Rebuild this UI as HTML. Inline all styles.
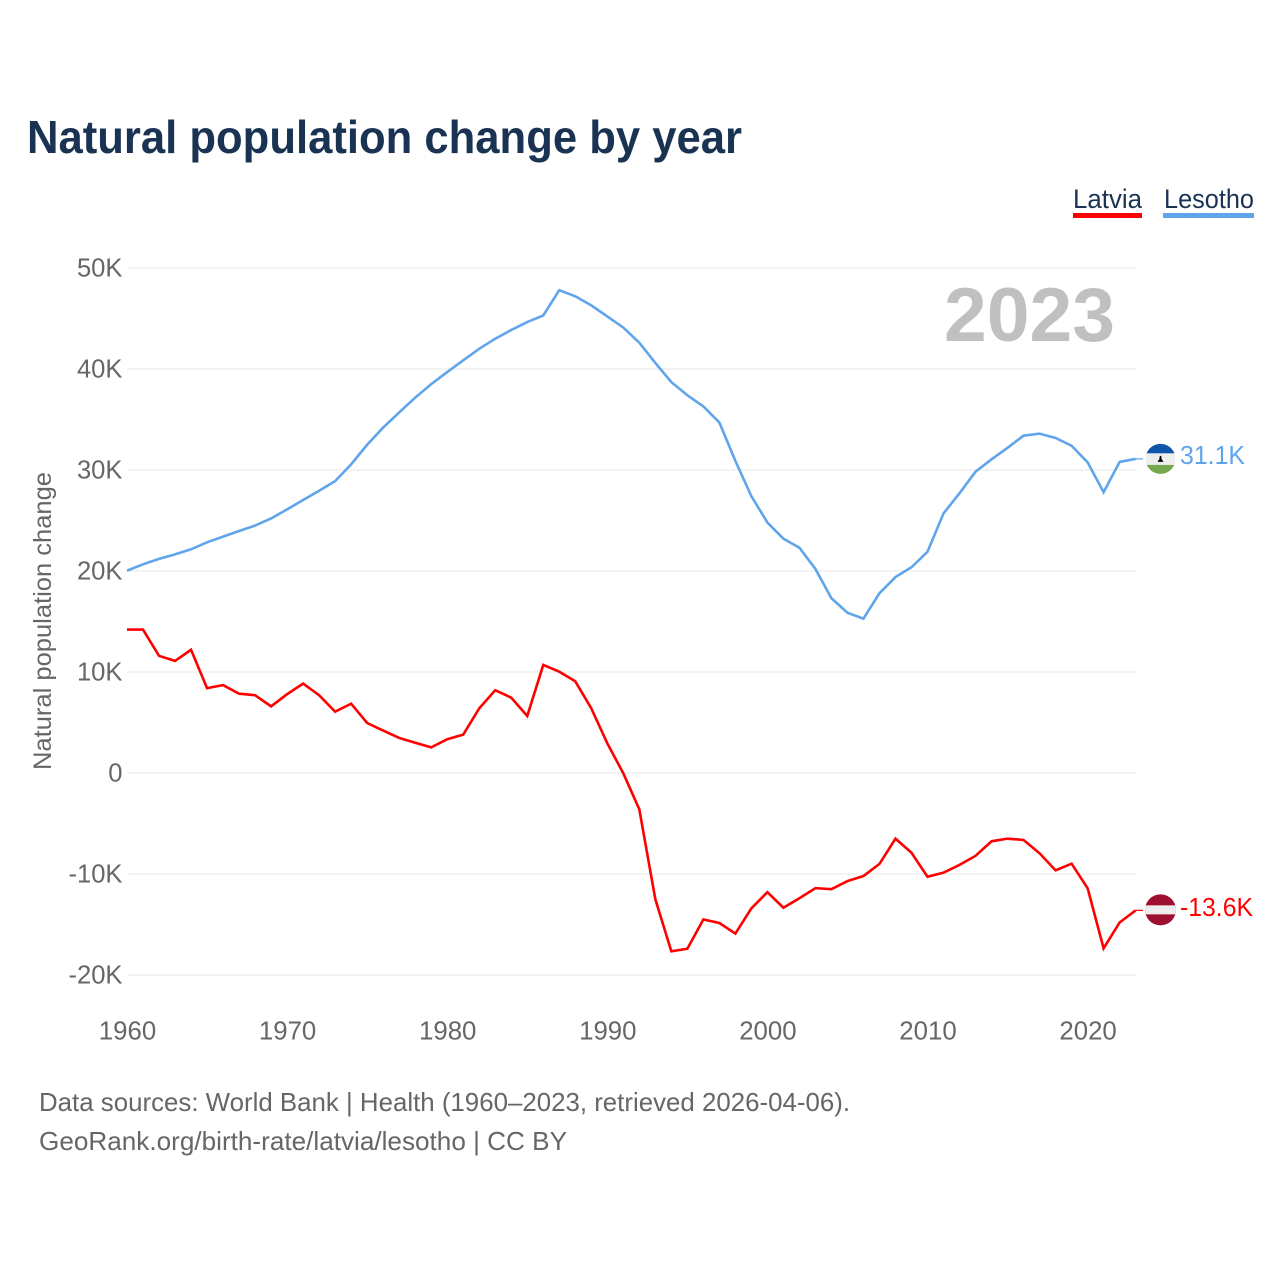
<!DOCTYPE html>
<html lang="en">
<head>
<meta charset="utf-8">
<title>Natural population change by year</title>
<style>
html,body{margin:0;padding:0;background:#fff;}
svg{display:block;font-family:"Liberation Sans",sans-serif;}
</style>
</head>
<body>
<svg id="chart" xmlns="http://www.w3.org/2000/svg" width="1280" height="1280" viewBox="0 0 1280 1280">
  <rect x="0" y="0" width="1280" height="1280" fill="#ffffff"/>
  <text x="27" y="153" font-size="46" font-weight="700" fill="#1a3353" textLength="715" lengthAdjust="spacingAndGlyphs">Natural population change by year</text>
  <g>
    <g>
      <text x="1073" y="208" font-size="27" fill="#1a3353" textLength="69" lengthAdjust="spacingAndGlyphs">Latvia</text>
      <rect x="1073" y="213" width="69" height="5" fill="#ff0000"/>
    </g>
    <g>
      <text x="1164" y="208" font-size="27" fill="#1a3353" textLength="90" lengthAdjust="spacingAndGlyphs">Lesotho</text>
      <rect x="1163" y="213" width="91" height="5" fill="#60a5ec"/>
    </g>
  </g>
  <text transform="translate(51,621) rotate(-90)" text-anchor="middle" font-size="25" fill="#666666" textLength="298" lengthAdjust="spacingAndGlyphs">Natural population change</text>
  <g id="grid"></g>
  <g id="y-ticks"></g>
  <g id="x-ticks"></g>
  <text x="944" y="341" font-size="76" font-weight="700" fill="#c0c0c0" textLength="171" lengthAdjust="spacingAndGlyphs">2023</text>
  <g id="series"></g>
  <defs>
    <clipPath id="lesotho-clip"><circle cx="0" cy="0" r="15"/></clipPath>
    <clipPath id="latvia-clip"><circle cx="0" cy="0" r="15.5"/></clipPath>
  </defs>
  <g id="flag-lesotho">
    <g clip-path="url(#lesotho-clip)">
      <rect x="-16" y="-16" width="32" height="10.5" fill="#0f55a8"/>
      <rect x="-16" y="-5.5" width="32" height="11.5" fill="#eeeeee"/>
      <rect x="-16" y="6" width="32" height="10" fill="#76a84e"/>
      <path d="M-0.8,-3 L0.8,-3 L1,0 L3,3 L-3,3 L-1,0 Z" fill="#000000"/>
    </g>
  </g>
  <g id="flag-latvia">
    <g clip-path="url(#latvia-clip)">
      <rect x="-16" y="-16" width="32" height="32" fill="#9e1030"/>
      <rect x="-16" y="-4.5" width="32" height="9" fill="#eeeeee"/>
    </g>
  </g>
  <text x="39" y="1111" font-size="26" fill="#666666" textLength="811" lengthAdjust="spacingAndGlyphs">Data sources: World Bank | Health (1960–2023, retrieved 2026-04-06).</text>
  <text x="39" y="1150" font-size="26" fill="#666666" textLength="528" lengthAdjust="spacingAndGlyphs">GeoRank.org/birth-rate/latvia/lesotho | CC BY</text>
</svg>
<script>
const startYear = 1960;
const yTickValues = [-20, -10, 0, 10, 20, 30, 40, 50];
const yTickLabels = ["-20K", "-10K", "0", "10K", "20K", "30K", "40K", "50K"];
const xTickYears = [1960, 1970, 1980, 1990, 2000, 2010, 2020];
const latviaValues = [14.2, 14.2, 11.6, 11.1, 12.2, 8.4, 8.7, 7.85, 7.7, 6.6, 7.8, 8.85, 7.7, 6.07, 6.86, 4.95, 4.2, 3.47, 3.0, 2.54, 3.34, 3.8, 6.4, 8.2, 7.46, 5.64, 10.7, 10.03, 9.08, 6.4, 2.94, -0.03, -3.6, -12.5, -17.65, -17.4, -14.5, -14.85, -15.9, -13.4, -11.8, -13.34, -12.4, -11.4, -11.5, -10.7, -10.2, -9.0, -6.5, -7.9, -10.27, -9.87, -9.1, -8.2, -6.76, -6.5, -6.63, -7.95, -9.64, -8.98, -11.4, -17.36, -14.8, -13.6];
const lesothoValues = [20.03, 20.66, 21.2, 21.65, 22.15, 22.84, 23.4, 23.96, 24.5, 25.2, 26.1, 27.03, 27.95, 28.9, 30.56, 32.5, 34.2, 35.7, 37.16, 38.5, 39.7, 40.86, 42.0, 43.0, 43.86, 44.65, 45.3, 47.8, 47.2, 46.3, 45.2, 44.1, 42.6, 40.6, 38.7, 37.4, 36.3, 34.7, 30.9, 27.4, 24.8, 23.2, 22.3, 20.2, 17.3, 15.87, 15.28, 17.8, 19.4, 20.37, 21.9, 25.7, 27.7, 29.83, 31.06, 32.2, 33.4, 33.6, 33.17, 32.4, 30.76, 27.8, 30.8, 31.1];

const NS = "http://www.w3.org/2000/svg";
const svgRoot = document.getElementById("chart");
const xScale = function (year) { return 127 + (year - startYear) * 16.01; };
const yScale = function (value) { return 773 - value * 10.1; };
const formatK = function (value) { return value.toFixed(1) + "K"; };

function makeLine(parent, x1, y1, x2, y2, color, width) {
  const el = document.createElementNS(NS, "line");
  el.setAttribute("x1", x1);
  el.setAttribute("y1", y1);
  el.setAttribute("x2", x2);
  el.setAttribute("y2", y2);
  el.setAttribute("stroke", color);
  el.setAttribute("stroke-width", width);
  parent.appendChild(el);
  return el;
}
function makeText(parent, content, x, y, size, color, anchor) {
  const el = document.createElementNS(NS, "text");
  el.textContent = content;
  el.setAttribute("x", x);
  el.setAttribute("y", y);
  el.setAttribute("font-size", size);
  el.setAttribute("fill", color);
  el.setAttribute("text-anchor", anchor);
  parent.appendChild(el);
  return el;
}
function makeSeries(parent, values, color) {
  const el = document.createElementNS(NS, "polyline");
  const pts = values.map(function (v, i) {
    return xScale(startYear + i).toFixed(2) + "," + yScale(v).toFixed(2);
  });
  el.setAttribute("points", pts.join(" "));
  el.setAttribute("fill", "none");
  el.setAttribute("stroke", color);
  el.setAttribute("stroke-width", "2.6");
  el.setAttribute("stroke-linejoin", "miter");
  parent.appendChild(el);
  return el;
}

const gridGroup = document.getElementById("grid");
const yTickGroup = document.getElementById("y-ticks");
const xTickGroup = document.getElementById("x-ticks");
const seriesGroup = document.getElementById("series");

yTickValues.forEach(function (value, i) {
  const y = yScale(value);
  const gridLine = makeLine(gridGroup, 127, y, 1136, y, "#ececec", 1.2);
  
  
  const tick = makeText(yTickGroup, yTickLabels[i], 122.5, y + 8.5, 25.6, "#666666", "end");
  
  
});

xTickYears.forEach(function (year) {
  const tick = makeText(xTickGroup, String(year), xScale(year) + 0.5, 1039.5, 25.8, "#666666", "middle");
  
  
});

const lastYear = startYear + latviaValues.length - 1;
const latviaLast = latviaValues[latviaValues.length - 1];
const lesothoLast = lesothoValues[lesothoValues.length - 1];

const lesothoLine = makeSeries(seriesGroup, lesothoValues, "#60a5ec");


const latviaLine = makeSeries(seriesGroup, latviaValues, "#ff0000");



const lesothoConnector = makeLine(seriesGroup, xScale(lastYear), yScale(lesothoLast), 1143, yScale(lesothoLast), "#60a5ec", 1.2);


const latviaConnector = makeLine(seriesGroup, xScale(lastYear), yScale(latviaLast), 1143, yScale(latviaLast), "#ff0000", 1.2);



document.getElementById("flag-lesotho").setAttribute("transform", "translate(1160.5," + yScale(lesothoLast) + ")");
document.getElementById("flag-latvia").setAttribute("transform", "translate(1160.5," + (yScale(latviaLast) - 0.5) + ")");

const lesothoValueLabel = makeText(svgRoot, formatK(lesothoLast), 1180, yScale(lesothoLast) + 5, 25.5, "#60a5ec", "start");


lesothoValueLabel.setAttribute("textLength", "65");
lesothoValueLabel.setAttribute("lengthAdjust", "spacingAndGlyphs");
const latviaValueLabel = makeText(svgRoot, formatK(latviaLast), 1180, yScale(latviaLast) + 5.5, 25.5, "#ff0000", "start");


latviaValueLabel.setAttribute("textLength", "73");
latviaValueLabel.setAttribute("lengthAdjust", "spacingAndGlyphs");
</script>
</body>
</html>
